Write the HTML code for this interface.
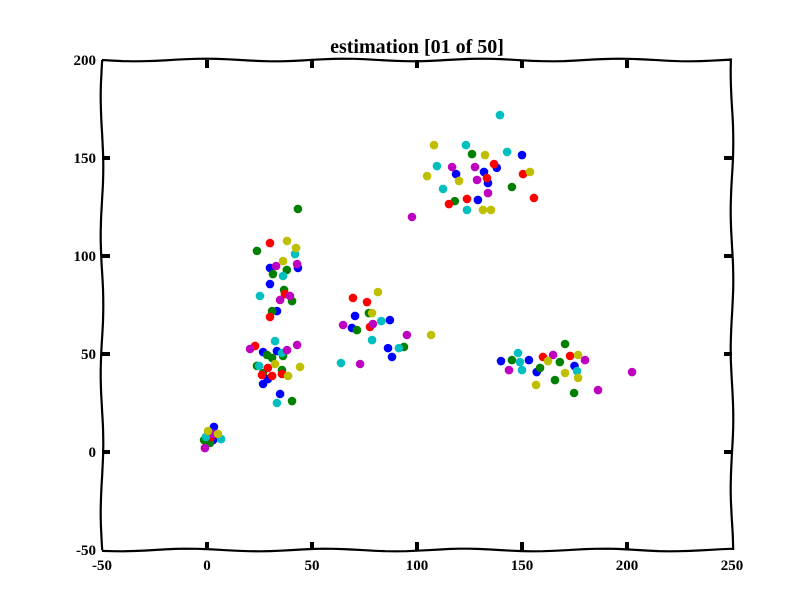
<!DOCTYPE html>
<html><head><meta charset="utf-8"><style>
body{margin:0;background:#fff;}
svg{display:block;}
text{font-family:"Liberation Serif",serif;font-weight:bold;fill:#000;}
</style></head><body>
<svg id="chart" width="812" height="612"></svg>
<script>
const xTicks=[-50,0,50,100,150,200,250];
const yTicks=[-50,0,50,100,150,200];
const seriesNames=["blue","green","red","cyan","magenta","yellow"];
const seriesColors=["#0000ff","#008000","#ff0000","#00bfbf","#bf00bf","#bfbf00"];
const blueX=[3.3,2.9,30,33.3,30,43.3,26.7,33.3,29,26.7,70.5,69,87.1,88.1,86.2,118.6,131.9,133.8,150,129,138,140,157,153.3,175,34.8];
const blueY=[12.8,6.1,93.9,71.9,85.7,93.9,51,51.5,37.2,34.7,69.4,63.3,67.3,48.5,53,141.8,142.9,137.2,151.5,128.6,145,46.4,40.8,46.9,43.9,29.6];
const greenX=[1.4,-1.4,43.3,23.8,31.4,36.7,40.5,31,38,28.6,23.8,31,36.2,40.5,26.7,35.7,71.4,77.1,93.8,126.2,145.2,118,170.5,174.8,145.2,168,158.6,165.7];
const greenY=[4.6,6.1,124,102.6,90.8,82.7,77,71.9,92.9,49.5,43.9,48,49,26,40.3,41.8,62.2,70.9,53.6,152,135.2,128,55.1,30.1,46.9,45.9,42.9,36.7];
const redX=[1.9,30,37.1,30,22.9,29,31,26.2,69.5,77.6,76.2,136.7,133.3,150.5,155.7,123.8,115.2,172.9,160,35.7];
const redY=[7.7,106.6,80.6,68.9,54.1,42.9,38.8,39.3,78.6,63.8,76.5,146.9,139.8,141.8,129.6,129.1,126.5,49,48.5,39.8];
const cyanX=[-0.5,6.7,25.2,36.2,41.9,32.4,35.7,33.3,24.8,63.8,78.6,91.4,83,139.5,123.3,109.5,112.4,123.8,142.9,148.1,150,176.2,149];
const cyanY=[7.7,6.6,79.6,89.8,101,56.6,50.5,25,43.9,45.4,57.1,53,66.8,171.9,156.6,145.9,134.2,123.5,153.1,50.5,41.8,41.3,45.9];
const magentaX=[-1,2.9,32.9,39.5,42.9,34.8,20.5,42.9,38.1,64.8,72.9,95.2,79,97.6,127.6,128.6,133.8,116.7,143.8,164.8,186.2,202.4,180];
const magentaY=[2,9.2,94.9,79.6,95.9,77.6,52.6,54.6,52,64.8,44.9,59.7,65.3,119.9,145.4,138.8,132.1,145.4,41.8,49.5,31.6,40.8,46.9];
const yellowX=[0.5,5.2,38.1,42.4,36.2,44.3,38.6,32.4,81.4,78.6,106.7,108.1,132.4,104.8,131.4,135.2,153.8,120,156.7,176.7,170.5,176.7,162.4];
const yellowY=[10.7,9.2,107.7,104.1,97.4,43.4,38.8,44.9,81.6,70.9,59.7,156.6,151.5,140.8,123.5,123.5,142.9,138.3,34.2,49.5,40.3,37.8,46.4];
const allX=[blueX,greenX,redX,cyanX,magentaX,yellowX];
const allY=[blueY,greenY,redY,cyanY,magentaY,yellowY];

const L=102,R=732,T=60,B=550;
const sx=v=>L+(v+50)/300*(R-L);
const sy=v=>B-(v+50)/250*(B-T);
const NS="http://www.w3.org/2000/svg";
const svg=document.getElementById('chart');
function mk(t,a){const e=document.createElementNS(NS,t);for(const k in a)e.setAttribute(k,a[k]);svg.appendChild(e);return e;}

// points
allX.forEach((xs,si)=>{
  xs.forEach((x,i)=>{
    const c=mk('circle',{cx:sx(x),cy:sy(allY[si][i]),r:4.3,fill:seriesColors[si]});
    
    
  });
});

// wavy frame
function wavy(x1,y1,x2,y2,ph){
  const n=60;let d='';
  const dx=x2-x1,dy=y2-y1,len=Math.hypot(dx,dy),nx=-dy/len,ny=dx/len;
  for(let i=0;i<=n;i++){const t=i/n;const o=1.3*Math.sin(t*len/22+ph);
    d+=(i?'L':'M')+(x1+dx*t+nx*o).toFixed(1)+' '+(y1+dy*t+ny*o).toFixed(1);}
  return d;
}
const frame=mk('path',{d:wavy(L,T,R,T,0)+wavy(R,T,R,B,1)+wavy(R,B,L,B,2)+wavy(L,B,L,T,3),fill:'none',stroke:'#000','stroke-width':2.2});



// ticks
xTicks.forEach(v=>{
  const x=sx(v);
  if(v>-50&&v<250){
    const t1=mk('line',{x1:x,y1:T,x2:x,y2:T+8,stroke:'#000','stroke-width':4});
    
    const t2=mk('line',{x1:x,y1:B,x2:x,y2:B-8,stroke:'#000','stroke-width':4});
    
  }
  const tx=mk('text',{x:x,y:B+20,'text-anchor':'middle','font-size':15});
  tx.textContent=v;
  
});
yTicks.forEach(v=>{
  const y=sy(v);
  if(v>-50&&v<200){
    const t1=mk('line',{x1:L,y1:y,x2:L+8,y2:y,stroke:'#000','stroke-width':4});
    
    const t2=mk('line',{x1:R,y1:y,x2:R-8,y2:y,stroke:'#000','stroke-width':4});
    
  }
  const ty=mk('text',{x:L-6,y:y+5,'text-anchor':'end','font-size':15});
  ty.textContent=v;
  
});
const title=mk('text',{x:417,y:53,'text-anchor':'middle','font-size':20});
title.textContent='estimation [01 of 50]';


</script>
</body></html>
